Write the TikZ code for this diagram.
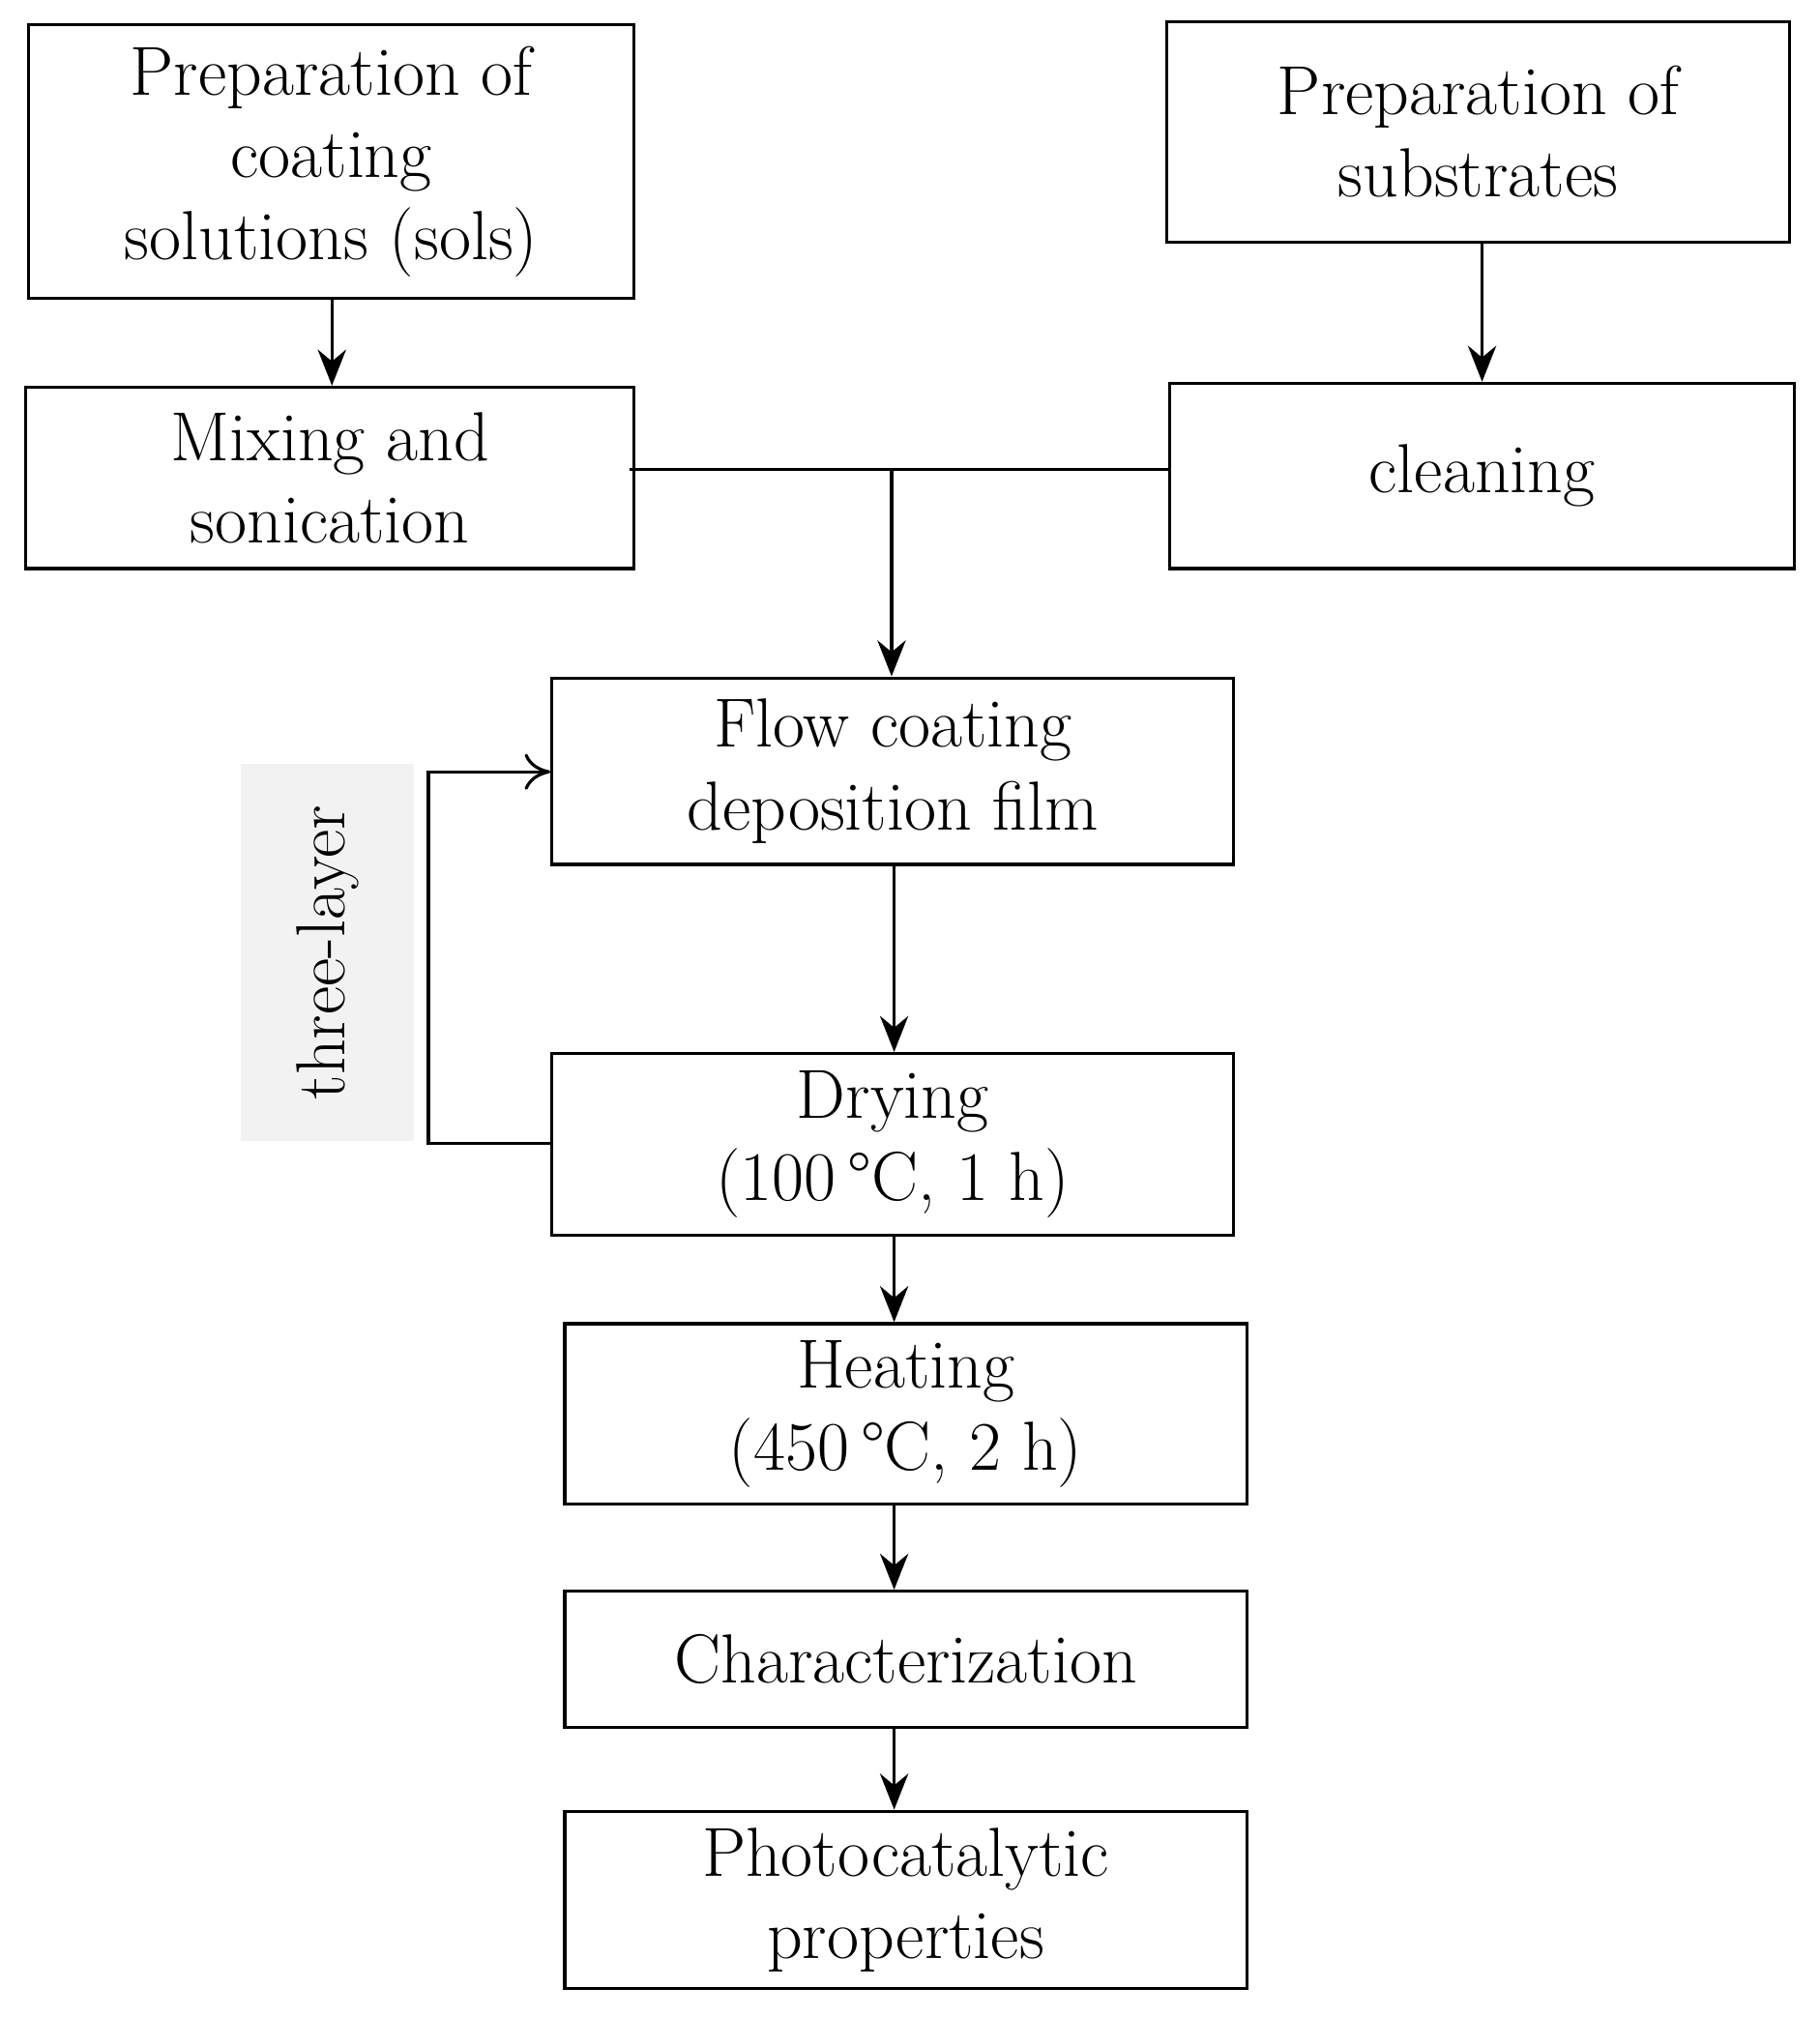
\documentclass[tikz,border=0pt]{standalone}
\usetikzlibrary{arrows.meta}
\begin{document}
\begin{tikzpicture}[x=0.5pt,y=-0.5pt,
  box/.style={draw,line width=1.2pt,inner sep=0pt,align=center,font=\fontsize{27}{32}\selectfont},
  arr/.style={-{Stealth[length=14pt,width=11pt]},line width=1.2pt},
  ln/.style={line width=1.2pt}]
\useasboundingbox (0,0) rectangle (1414,1568);
\newcommand\bx[6]{\node[box,minimum width={(#4-#2)*0.5pt},minimum height={(#5-#3)*0.5pt}] (#1) at ({(#2+#4)/2},{(#3+#5)/2}) {#6};}
\bx{a}{22}{19}{493}{232}{Preparation of\\coating\\solutions (sols)}
\bx{b}{907}{17}{1391}{188}{Preparation of\\substrates}
\bx{c}{20}{301}{493}{442}{Mixing and\\sonication}
\bx{d}{909}{298}{1395}{442}{cleaning}
\bx{e}{429}{527}{959}{672}{Flow coating\\deposition film}
\bx{f}{429}{819}{959}{960}{Drying\\(100\,°C, 1 h)}
\bx{g}{439}{1029}{969}{1169}{Heating\\(450\,°C, 2 h)}
\bx{h}{439}{1237}{969}{1343}{Characterization}
\bx{i}{439}{1408}{969}{1546}{Photocatalytic\\properties}
\node[fill=gray!10,minimum width=67.5pt,minimum height=146.5pt,inner sep=0pt] (lab) at (254.5,740.5) {};
\node[rotate=90,font=\fontsize{27}{32}\selectfont] (labt) at (254.5,740.5) {three-layer};
\draw[arr] (a.south -| 258,0) -- (c.north -| 258,0);
\draw[arr] (b.south -| 1152,0) -- (d.north -| 1152,0);
\coordinate (j) at (693,365);
\draw[ln] (489,365) -- (d.west |- j);
\draw[arr] (j) -- (e.north -| j);
\draw[arr] (e.south -| 695,0) -- (f.north -| 695,0);
\draw[arr] (f.south -| 695,0) -- (g.north -| 695,0);
\draw[arr] (g.south -| 695,0) -- (h.north -| 695,0);
\draw[arr] (h.south -| 695,0) -- (i.north -| 695,0);
\coordinate (p) at (333,889);
\coordinate (q) at (333,600);
\draw[ln,-{To[length=10pt,width=14pt]}] (f.west |- p) -- (p) -- (q) -- (e.west |- q);
\end{tikzpicture}
\end{document}
